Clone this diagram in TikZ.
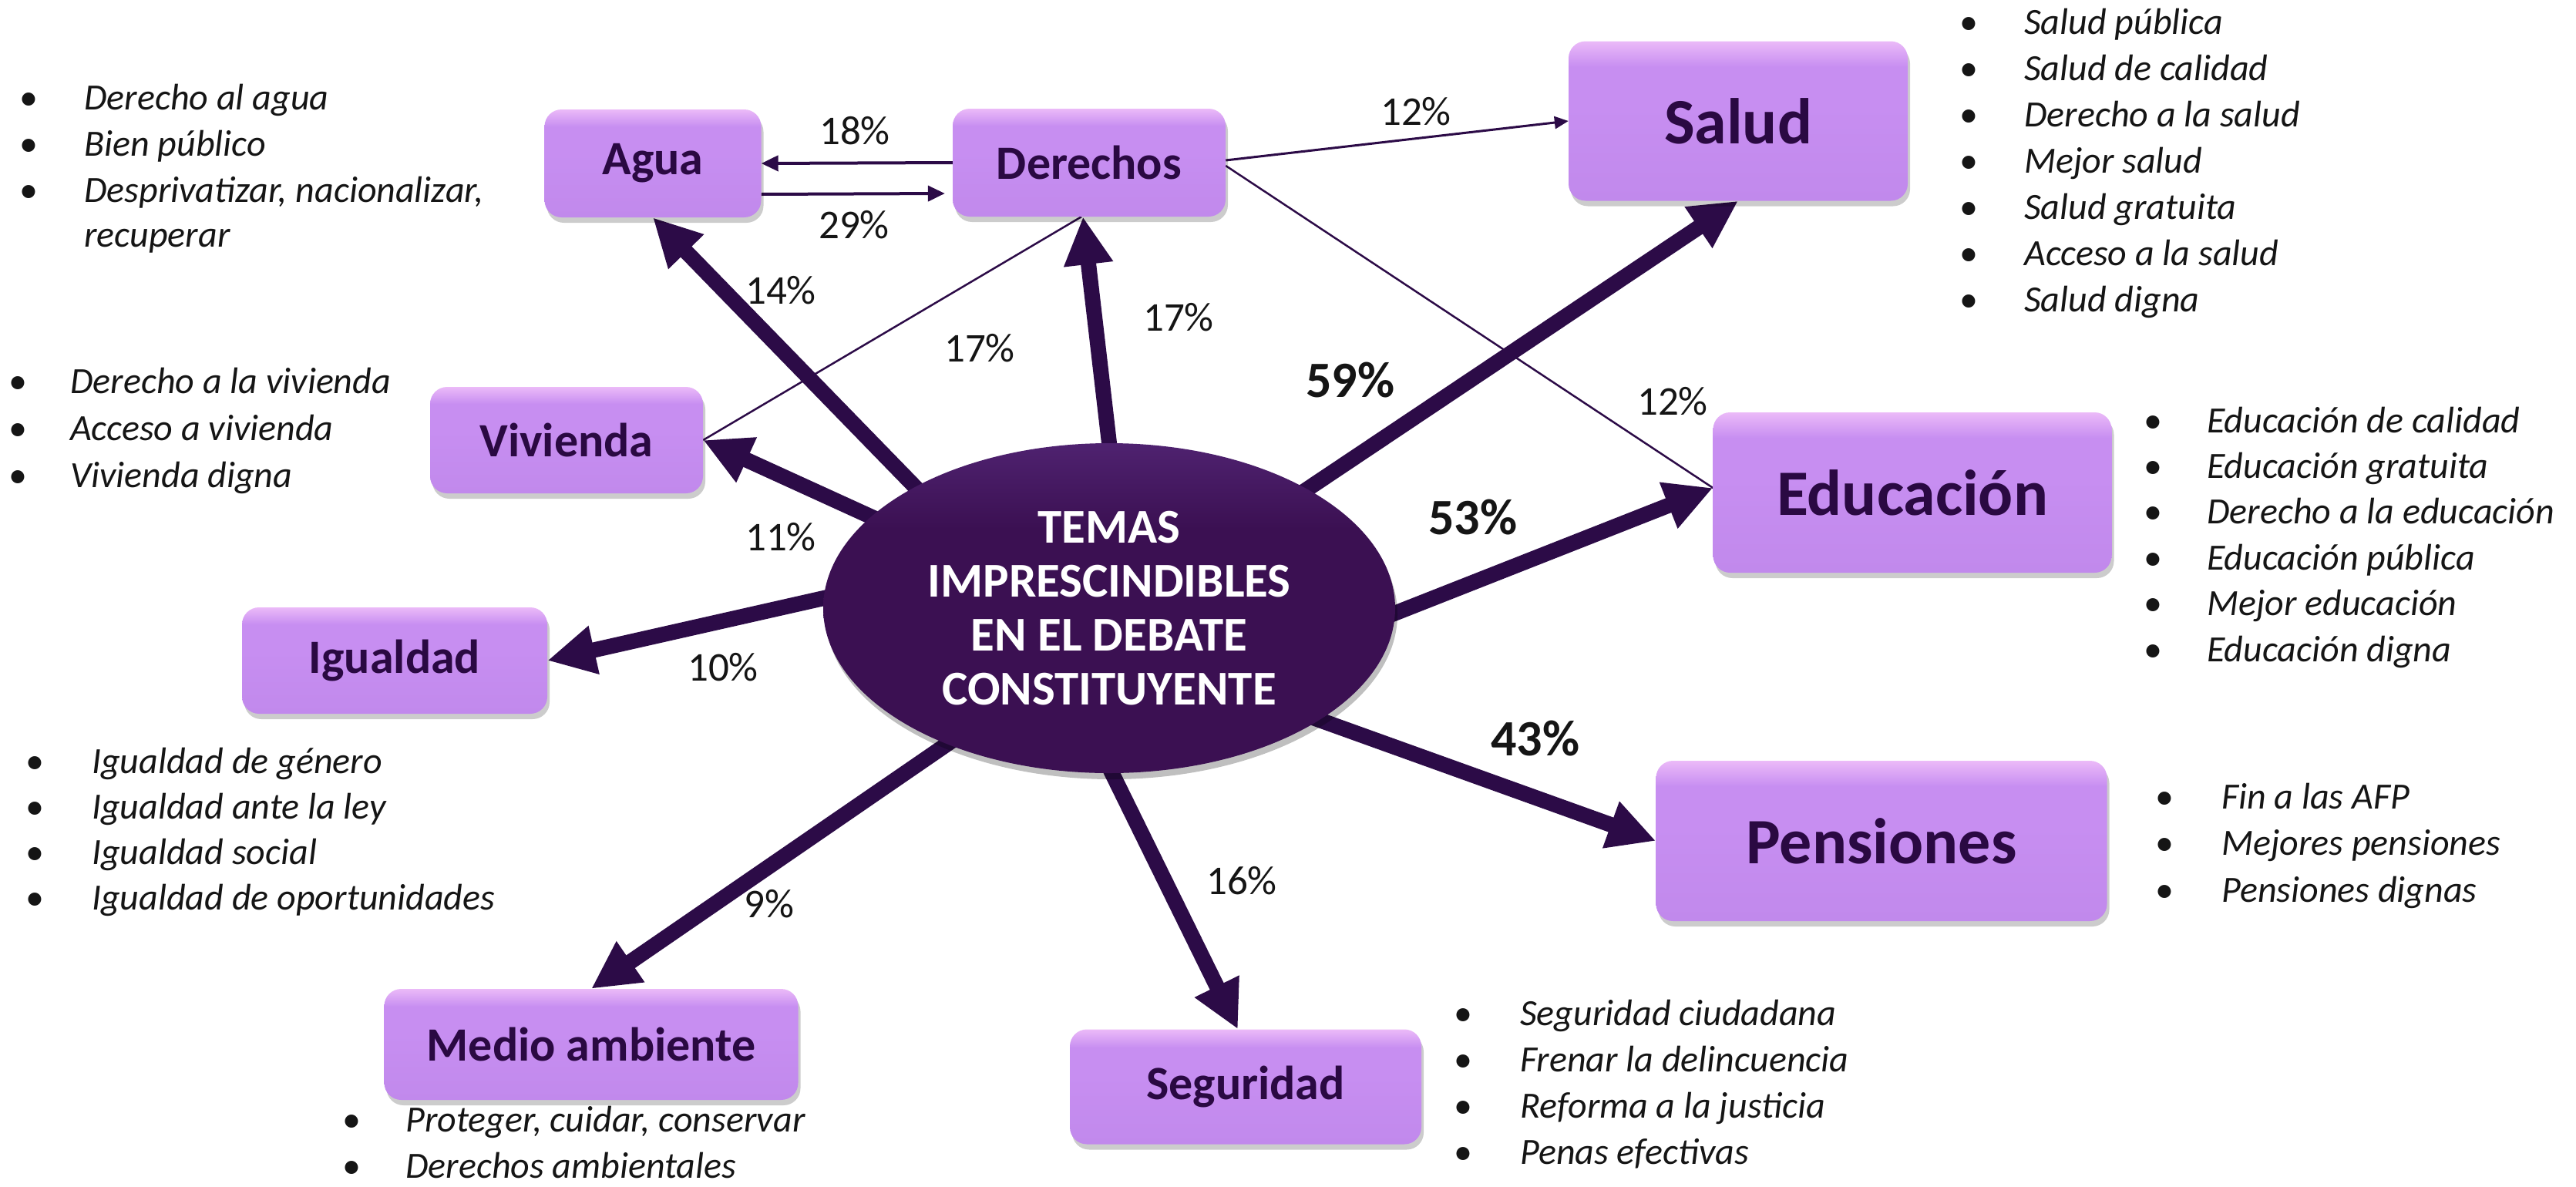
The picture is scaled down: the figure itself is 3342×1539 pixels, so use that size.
\documentclass[tikz,border=0pt]{standalone}
\usepackage{fontspec}
\setmainfont{Carlito}
\usetikzlibrary{arrows.meta,shapes.geometric,shadows}
\definecolor{arrowc}{HTML}{2C0B47}
\definecolor{ellc}{HTML}{3B1052}
\definecolor{elltop}{HTML}{4F2270}
\definecolor{boxtop}{HTML}{EBBAF8}
\definecolor{boxmid}{HTML}{C78EF1}
\definecolor{boxbot}{HTML}{C189EC}
\definecolor{boxtxt}{HTML}{2A0942}
\definecolor{txt}{HTML}{151515}
\pgfdeclareverticalshading{boxshade}{100bp}{color(0bp)=(boxbot); color(25bp)=(boxbot); color(55bp)=(boxmid); color(67bp)=(boxmid); color(75bp)=(boxtop); color(100bp)=(boxtop)}
\pgfdeclareverticalshading{ellshade}{100bp}{color(0bp)=(ellc); color(25bp)=(ellc); color(62bp)=(ellc); color(75bp)=(elltop); color(100bp)=(elltop)}
\pgfdeclarelayer{back}
\pgfdeclarelayer{bg}
\pgfsetlayers{back,bg,main}
\newcommand\mybul[1]{\llap{\upshape\textbullet\hspace{#1pt}}}
\tikzset{
  boxbase/.style={rectangle, rounded corners=22pt, shading=boxshade, inner sep=0pt, text=boxtxt,
    drop shadow={shadow xshift=3pt, shadow yshift=-7pt, opacity=0.2, fill=black}},
  box/.style={boxbase, font=\fontsize{62}{70}\selectfont\bfseries},
  bigbox/.style={boxbase, font=\fontsize{84}{90}\selectfont\bfseries},
  thickarrow/.style={draw=arrowc, line width=20pt, -{Triangle[length=62pt,width=60pt]}, shorten <=-40pt},
  thinarrow/.style={draw=arrowc, line width=4pt, -{Triangle[length=22pt,width=20pt]}},
  slimarrow/.style={draw=arrowc, line width=3pt, -{Triangle[length=18pt,width=16pt]}},
  slimline/.style={draw=arrowc, line width=2.5pt},
  pct/.style={text=txt, font=\fontsize{53}{60}\selectfont, inner sep=0pt},
  bigpct/.style={text=txt, font=\fontsize{66}{70}\selectfont\bfseries, inner sep=0pt},
  item/.style={anchor=west, text=txt, font=\fontsize{48}{56}\selectfont\itshape, inner sep=0pt, text height=33pt, text depth=11pt}
}
\begin{document}
\begin{tikzpicture}[x=1pt,y=-1pt]
\useasboundingbox (0,0) rectangle (3342,1539);
\begin{pgfonlayer}{back}
\fill[white] (0,0) rectangle (3342,1539);
\end{pgfonlayer}

% central ellipse
\node[ellipse, minimum width=742pt, minimum height=428pt, inner sep=0pt, shading=ellshade,
  drop shadow={shadow xshift=3pt, shadow yshift=-8pt, opacity=0.25, fill=black},
  text=white, align=center, font=\fontsize{63}{70}\selectfont\bfseries] (ell) at (1439,789)
  {TEMAS\\IMPRESCINDIBLES\\EN EL DEBATE\\CONSTITUYENTE};

% boxes
\node[box, minimum width=281pt, minimum height=140pt] (agua) at (847,212) {Agua};
\node[box, minimum width=354pt, minimum height=140pt] (der) at (1413,211) {Derechos};
\node[bigbox, minimum width=440pt, minimum height=207pt] (sal) at (2255,157) {Salud};
\node[box, minimum width=354pt, minimum height=138pt] (viv) at (735,571) {Vivienda};
\node[bigbox, minimum width=517pt, minimum height=208pt] (edu) at (2481,639) {Educación};
\node[box, minimum width=396pt, minimum height=138pt] (ig) at (512,857) {Igualdad};
\node[bigbox, minimum width=585pt, minimum height=208pt] (pen) at (2441,1091) {Pensiones};
\node[box, minimum width=537pt, minimum height=144pt] (med) at (767,1355) {Medio ambiente};
\node[box, minimum width=456pt, minimum height=149pt] (seg) at (1616,1410) {Seguridad};

% connectors
\begin{pgfonlayer}{bg}
\draw[thickarrow] (ell.148) -- (agua.south);
\draw[thickarrow] (ell.90) -- ([xshift=-8pt]der.south);
\draw[thickarrow] (ell.159) -- (viv.east);
\draw[thickarrow] (ell.178) -- (ig.east);
\draw[thickarrow] (ell.220) -- (med.north);
\draw[thickarrow] (ell.271) -- ([xshift=-10pt]seg.north);
\draw[thickarrow] (ell.31) -- (sal.south);
\draw[thickarrow] (ell.-1) -- ([yshift=6pt]edu.west);
\draw[thickarrow] (ell.-28) -- (pen.west);
\draw[thinarrow] (der.west) -- (agua.east);
\draw[thinarrow] ([yshift=-40pt]agua.east) -- ([yshift=-40pt,xshift=-10pt]der.west);
\draw[slimarrow] ([yshift=3pt]der.east) -- (sal.west);
\draw[slimline] ([yshift=-4pt]der.east) -- ([yshift=6pt]edu.west);
\draw[slimline] (viv.east) -- ([xshift=-10pt]der.south);
\end{pgfonlayer}

% percentages
\node[pct] (p18) at (1109,170) {18\%};
\node[pct] (p29) at (1108,292) {29\%};
\node[pct] (p12a) at (1837,145) {12\%};
\node[pct] (p14) at (1013,377) {14\%};
\node[pct] (p17a) at (1271,452) {17\%};
\node[pct] (p17b) at (1529,412) {17\%};
\node[bigpct] (p59) at (1752,493) {59\%};
\node[pct] (p12b) at (2170,521) {12\%};
\node[bigpct] (p53) at (1911,671) {53\%};
\node[pct] (p11) at (1013,697) {11\%};
\node[pct] (p10) at (938,866) {10\%};
\node[bigpct] (p43) at (1992,958) {43\%};
\node[pct] (p9) at (998,1173) {9\%};
\node[pct] (p16) at (1611,1143) {16\%};

% lists
\foreach \t [count=\i from 0] in {Derecho al agua, Bien público, {Desprivatizar, nacionalizar,}}
  \node[item] (la\i) at (109,{131+60*\i}) {\mybul{60}\t};
\node[item] (la3) at (109,309) {recuperar};

\foreach \t [count=\i from 0] in {Derecho a la vivienda, Acceso a vivienda, Vivienda digna}
  \node[item] (lv\i) at (91,{499+61*\i}) {\mybul{56}\t};

\foreach \t [count=\i from 0] in {Salud pública, Salud de calidad, Derecho a la salud, Mejor salud, Salud gratuita, Acceso a la salud, Salud digna}
  \node[item] (ls\i) at (2626,{33+60*\i}) {\mybul{60}\t};

\foreach \t [count=\i from 0] in {Educación de calidad, Educación gratuita, Derecho a la educación, Educación pública, Mejor educación, Educación digna}
  \node[item] (le\i) at (2863,{550+59.4*\i}) {\mybul{58}\t};

\foreach \t [count=\i from 0] in {Igualdad de género, Igualdad ante la ley, Igualdad social, Igualdad de oportunidades}
  \node[item] (li\i) at (119,{992+59.3*\i}) {\mybul{62}\t};

\foreach \t [count=\i from 0] in {Fin a las AFP, Mejores pensiones, Pensiones dignas}
  \node[item] (lp\i) at (2882,{1038+60.5*\i}) {\mybul{62}\t};

\foreach \t [count=\i from 0] in {{Proteger, cuidar, conservar}, Derechos ambientales}
  \node[item] (lm\i) at (526,{1457+60*\i}) {\mybul{58}\t};

\foreach \t [count=\i from 0] in {Seguridad ciudadana, Frenar la delincuencia, Reforma a la justicia, Penas efectivas}
  \node[item] (lg\i) at (1972,{1319+60.3*\i}) {\mybul{62}\t};
\end{tikzpicture}
\end{document}
